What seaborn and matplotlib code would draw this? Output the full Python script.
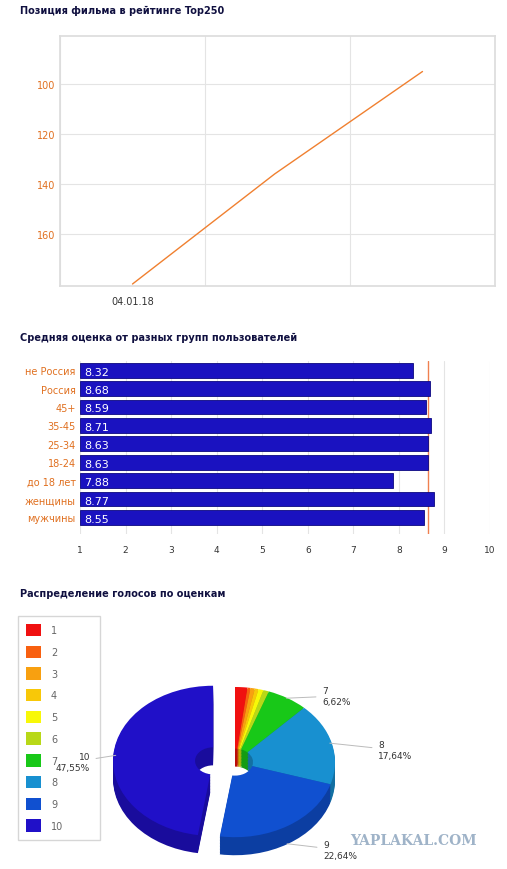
import numpy as np
import pandas as pd
import matplotlib
matplotlib.use("Agg")
import matplotlib.pyplot as plt
import seaborn as sns

# --- data ---
rank_x = [0.5, 1.48, 2.5]
rank_y = [180, 136, 95]
date_label = "04.01.18"

groups = ["не Россия", "Россия", "45+", "35-45", "25-34", "18-24", "до 18 лет", "женщины", "мужчины"]
scores = [8.32, 8.68, 8.59, 8.71, 8.63, 8.63, 7.88, 8.77, 8.55]
avg_score = 8.63

grades = ["1", "2", "3", "4", "5", "6", "7", "8", "9", "10"]
shares = [2.0, 0.5, 0.7, 0.6, 0.8, 0.9, 6.62, 17.64, 22.64, 47.55]
pie_colors = ["#f01010", "#f86010", "#f8a010", "#f8c808", "#f8f808", "#b8d818",
              "#18c818", "#1890d0", "#1050d0", "#2010c8"]

sns.set_theme(style="whitegrid")
plt.rcParams['font.family'] = ['DejaVu Sans']
W, H = 507, 870
fig = plt.figure(figsize=(W / 100, H / 100), dpi=100)
fig.patch.set_facecolor("white")

def box(x0, y0, x1, y1):
    return [x0 / W, 1 - y1 / H, (x1 - x0) / W, (y1 - y0) / H]

title_kw = dict(fontsize=7, fontweight="bold", color="#101040")
tick_col = "#e07020"

# --- line chart ---
fig.text(20 / W, 1 - 14 / H, "Позиция фильма в рейтинге Top250", **title_kw)
ax1 = fig.add_axes(box(60, 37, 495, 287))
sns.lineplot(x=rank_x, y=rank_y, ax=ax1, color="#f08030", linewidth=1)
ax1.set_xlim(0, 3)
ax1.set_ylim(180.8, 80.8)
ax1.set_xticks([0, 1, 2, 3])
ax1.set_xticklabels([])
ax1.set_yticks([100, 120, 140, 160])
ax1.tick_params(axis="y", colors=tick_col, labelsize=7, length=0)
ax1.text(rank_x[0], -0.04, date_label, transform=ax1.get_xaxis_transform(),
         ha="center", va="top", fontsize=7, color="#333333")
for s in ax1.spines.values():
    s.set_color("#dddddd")
ax1.grid(color="#e4e4e4", linewidth=0.8)

# --- bar chart ---
fig.text(20 / W, 1 - 341 / H, "Средняя оценка от разных групп пользователей", **title_kw)
ax2 = fig.add_axes(box(80, 362, 490, 535))
df = pd.DataFrame({"group": groups, "score": scores})
sns.barplot(data=df, y="group", x="score", ax=ax2, color="#1a12c0", saturation=1,
            width=0.8, orient="h")
for p, v in zip(ax2.patches, scores):
    p.set_x(1)
    p.set_width(v - 1)
    p.set_edgecolor("#0c0880")
    p.set_linewidth(0.6)
for i, v in enumerate(scores):
    ax2.text(1.1, i + 0.08, f"{v:.2f}", color="white", va="center", fontsize=8)
ax2.axvline(avg_score, color="#f08050", linewidth=1, zorder=0)
ax2.set_xlim(1, 10)
ax2.set_ylim(8.9, -0.5)
ax2.set_xticks(range(1, 11))
ax2.set_xlabel("")
ax2.set_ylabel("")
ax2.tick_params(axis="y", colors=tick_col, labelsize=7, length=0, pad=3)
ax2.tick_params(axis="x", colors="#333333", labelsize=6.5, length=0, pad=8)
ax2.grid(axis="x", color="#e4e4e4", linewidth=0.8)
ax2.grid(axis="y", visible=False)
for s in ax2.spines.values():
    s.set_visible(False)

# --- pie chart ---
fig.text(20 / W, 1 - 597 / H, "Распределение голосов по оценкам", **title_kw)
ax3 = fig.add_axes(box(120, 688, 350, 872))
explode = [0] * 9 + [0.22]
darker = [tuple(c * 0.78 for c in matplotlib.colors.to_rgb(col)) for col in pie_colors]
for k in range(12, 0, -1):
    ax3.pie(shares, colors=darker, startangle=90, counterclock=False, explode=explode,
            center=(0, -0.02 * k), radius=1, wedgeprops=dict(width=0.82, linewidth=0))
wedges, _ = ax3.pie(shares, colors=pie_colors, startangle=90, counterclock=False,
                    explode=explode, radius=1, wedgeprops=dict(width=0.82, linewidth=0))
ax3.set_xlim(-1.15, 1.15)
ax3.set_ylim(-1.45, 1.0)
ax3.set_aspect("auto")
ax3.axis("off")

cum = np.cumsum([0] + shares)
label_pos = {6: (0.87, 0.88, "left"), 7: (1.43, 0.16, "left"),
             8: (0.88, -1.17, "left"), 9: (-1.45, 0.0, "right")}
for i, (tx, ty, ha) in label_pos.items():
    mid = np.deg2rad(90 - 3.6 * (cum[i] + cum[i + 1]) / 2)
    ex = 0.22 if i == 9 else 0
    px, py = (1 + ex) * np.cos(mid), (1 + ex) * np.sin(mid)
    if i == 8:
        py -= 0.24
    lab = f"{grades[i]}\n{shares[i]:.2f}%".replace(".", ",")
    ax3.annotate(lab, xy=(px * 0.98, py), xytext=(tx, ty), fontsize=6.5, color="#333333",
                 ha=ha, va="center",
                 arrowprops=dict(arrowstyle="-", color="#bbbbbb", lw=0.7, shrinkA=2, shrinkB=0),
                 annotation_clip=False)

leg = fig.legend(wedges, grades, loc="upper left", mode="expand",
                 bbox_to_anchor=(18 / W, 1 - 847 / H, 82 / W, 230 / H),
                 fontsize=7, labelcolor="#666666", handlelength=1.6, handleheight=1.6,
                 handletextpad=1.0, labelspacing=0.95, borderpad=0.8, frameon=True,
                 edgecolor="#cccccc", fancybox=False, borderaxespad=0)
leg.set_zorder(-1)

fig.text(413 / W, 1 - 841 / H, "YAPLAKAL.COM", fontsize=10, fontweight="bold",
         color="#9fb3c8", ha="center", va="center", family="DejaVu Serif")

fig.savefig("out.png", dpi=100)
